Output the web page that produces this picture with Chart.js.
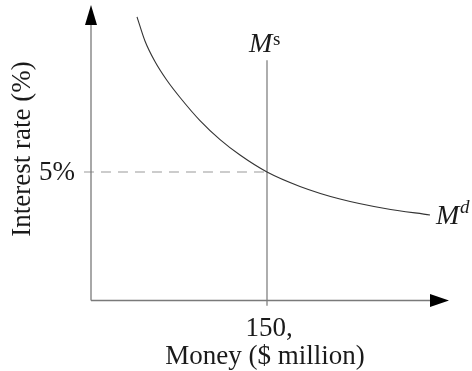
<!DOCTYPE html>
<html>
<head>
<meta charset="utf-8">
<script src="https://cdn.jsdelivr.net/npm/chart.js@4/dist/chart.umd.min.js"></script>
<style>
  html, body { margin: 0; padding: 0; background: #fff; }
  #wrap { width: 472px; height: 371px; position: relative; }
</style>
</head>
<body>
<div id="wrap"><canvas id="moneyChart"></canvas></div>
<script>
// money demand curve (x = $ million, y = %)
const demandMoney = [39.2, 46, 54.5, 64.8, 75.9, 92.9, 110, 127, 150, 178.1, 212.2, 250.6, 288.9];
const demandRate = [11.04, 10.1, 9.3, 8.56, 7.9, 7.0, 6.26, 5.66, 5.0, 4.44, 3.95, 3.58, 3.33];

// money supply (vertical) and equilibrium rate
const supplyMoney = [150, 150];
const supplyRate = [-0.2, 9.35];
const eqRate = 5;
const eqMoney = 150;

const rateTick = '5%';
const moneyTick = '150,';
const xTitle = 'Money ($ million)';
const yTitle = 'Interest rate (%)';

const FONT = '"Liberation Serif", "Times New Roman", serif';

const toPoints = (xs, ys) => xs.map((x, i) => ({ x: x, y: ys[i] }));

const axesPlugin = {
    id: 'econAxes',
    afterDraw(chart) {
        const { ctx, chartArea, scales } = chart;
        const x0 = scales.x.getPixelForValue(0);
        const y0 = scales.y.getPixelForValue(0);
        const xTip = chartArea.right + 6;
        const yTip = chartArea.top;

        ctx.save();
        // axis lines
        ctx.strokeStyle = '#7a7a7a';
        ctx.lineWidth = 1.3;
        ctx.beginPath();
        ctx.moveTo(x0, y0);
        ctx.lineTo(x0, yTip + 18);
        ctx.moveTo(x0, y0);
        ctx.lineTo(xTip - 18, y0);
        ctx.stroke();

        // arrow heads
        ctx.fillStyle = '#000';
        ctx.beginPath();
        ctx.moveTo(x0, yTip);
        ctx.lineTo(x0 - 6, yTip + 20);
        ctx.lineTo(x0 + 6, yTip + 20);
        ctx.closePath();
        ctx.fill();
        ctx.beginPath();
        ctx.moveTo(xTip, y0);
        ctx.lineTo(xTip - 19, y0 - 6.5);
        ctx.lineTo(xTip - 19, y0 + 6.5);
        ctx.closePath();
        ctx.fill();

        // texts
        ctx.fillStyle = '#1a1a1a';
        ctx.font = '27px ' + FONT;
        ctx.textBaseline = 'middle';
        ctx.textAlign = 'right';
        ctx.fillText(rateTick, x0 - 16, scales.y.getPixelForValue(eqRate) + 1);

        const xm = scales.x.getPixelForValue(eqMoney);
        ctx.textAlign = 'center';
        ctx.textBaseline = 'alphabetic';
        ctx.fillText(moneyTick, xm + 2, y0 + 35);
        ctx.fillText(xTitle, xm - 2, y0 + 63);

        ctx.save();
        ctx.translate(23, 149);
        ctx.rotate(-Math.PI / 2);
        ctx.textBaseline = 'middle';
        ctx.fillText(yTitle, 0, 0);
        ctx.restore();

        // curve labels
        ctx.textAlign = 'left';
        ctx.font = 'italic 28px ' + FONT;
        const msTop = scales.y.getPixelForValue(supplyRate[1]);
        ctx.fillText('M', xm - 18, msTop - 8);
        ctx.font = '19px ' + FONT;
        ctx.fillText('s', xm + 6, msTop - 15);

        const last = demandMoney.length - 1;
        const mdx = scales.x.getPixelForValue(demandMoney[last]);
        const mdy = scales.y.getPixelForValue(demandRate[last]);
        ctx.font = 'italic 28px ' + FONT;
        ctx.fillText('M', mdx + 6, mdy + 9);
        ctx.font = 'italic 19px ' + FONT;
        ctx.fillText('d', mdx + 30, mdy - 2);
        ctx.restore();
    }
};

new Chart(document.getElementById('moneyChart'), {
    type: 'scatter',
    data: {
        datasets: [
            {
                label: 'Md',
                data: toPoints(demandMoney, demandRate),
                showLine: true,
                borderColor: '#333',
                borderWidth: 1.1,
                pointRadius: 0,
                cubicInterpolationMode: 'monotone',
                clip: false
            },
            {
                label: 'Ms',
                data: toPoints(supplyMoney, supplyRate),
                showLine: true,
                borderColor: '#777',
                borderWidth: 1.2,
                pointRadius: 0,
                clip: false
            },
            {
                label: 'rate',
                data: [{ x: -6, y: eqRate }, { x: eqMoney, y: eqRate }],
                showLine: true,
                borderColor: '#999',
                borderWidth: 1.2,
                borderDash: [10, 7],
                pointRadius: 0,
                clip: false
            }
        ]
    },
    options: {
        responsive: true,
        maintainAspectRatio: false,
        animation: false,
        layout: { padding: { left: 91, right: 29, top: 5, bottom: 70.5 } },
        scales: {
            x: { type: 'linear', min: 0, max: 300, display: false },
            y: { type: 'linear', min: 0, max: 11.5, display: false }
        },
        plugins: {
            legend: { display: false },
            tooltip: { enabled: false }
        }
    },
    plugins: [axesPlugin]
});
</script>
</body>
</html>
